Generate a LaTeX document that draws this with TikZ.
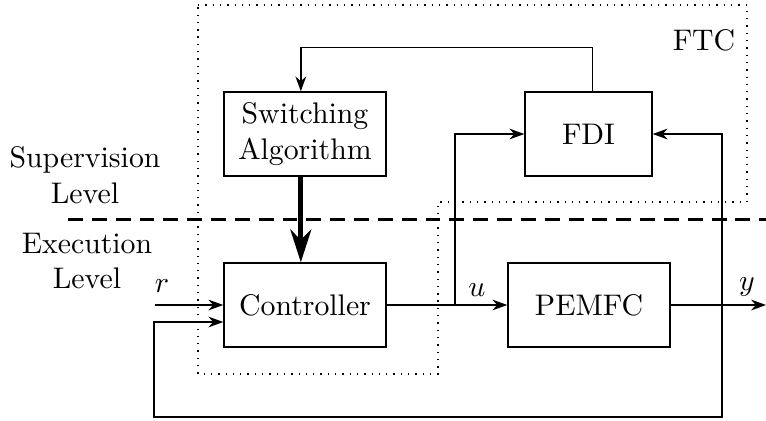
\documentclass[tikz,border=0pt]{standalone}
\usetikzlibrary{arrows.meta}
\begin{document}
\begin{tikzpicture}[x=0.3356pt,y=-0.3356pt,
  block/.style={draw,line width=0.45pt,minimum width=54.4pt,minimum height=28.2pt,
    inner sep=0pt,align=center},
  arr/.style={line width=0.45pt,-{Stealth[length=5pt,width=3.6pt,inset=1.6pt]}},
  bigarr/.style={line width=1.7pt,-{Stealth[length=11pt,width=7pt,inset=3.5pt]}},
  levelsep/.style={line width=1pt,dash pattern=on 5pt off 3pt},
  ftcframe/.style={dotted,line width=0.45pt},
  lbl/.style={align=center,inner sep=0pt},
  sig/.style={anchor=south,inner sep=0pt}]
\useasboundingbox (0,0) rectangle (766,420);

% FTC region
\draw[ftcframe] (198,5) -- (747,5) -- (747,202) -- (438,202) -- (438,374)
  -- (198,374) -- cycle;
\node[lbl] (ftc) at (704,40) {FTC};

% level separator
\coordinate (sepL) at (68,219);
\coordinate (sepR) at (766,219);
\draw[levelsep] (sepL) -- (sepR);
\node[lbl] (sup) at (85,175) {Supervision\\Level};
\node[lbl] (exe) at (87,261) {Execution\\Level};

% blocks
\node[block] (SW) at (305,134) {Switching\\Algorithm};
\node[block,minimum width=42.6pt] (FDI) at (588.5,134) {FDI};
\node[block] (CT) at (305,305) {Controller};
\node[block] (PM) at (589,305) {PEMFC};

% FDI -> switching algorithm
\draw[arr] ([xshift=1.4pt]FDI.north) -- ++(0,-44) -| ([xshift=-1.4pt]SW.north);
% switching algorithm -> controller
\draw[bigarr] ([xshift=-1.4pt]SW.south) -- ([xshift=-1.4pt]CT.north);

% reference input
\coordinate (rin) at (155,305);
\draw[arr] (rin) -- (CT.west);
\node[sig] (rlab) at (162,293) {$r$};

% control signal
\coordinate (ub) at (455,305);
\draw[arr] (CT.east) -- (PM.west);
\node[sig] (ulab) at (477,297) {$u$};
\draw[arr] (ub) |- (FDI.west);

% output
\coordinate (yb) at (722,305);
\coordinate (yout) at (766,305);
\draw[arr] (PM.east) -- (yout);
\node[sig] (ylab) at (747,297) {$y$};
\draw[arr] (yb) |- (FDI.east);
\coordinate (fbB) at (722,417);
\coordinate (fbL) at (154,417);
\draw[arr] (yb) -- (fbB) -- (fbL) |- ([yshift=-5.7pt]CT.west);
\end{tikzpicture}
\end{document}
